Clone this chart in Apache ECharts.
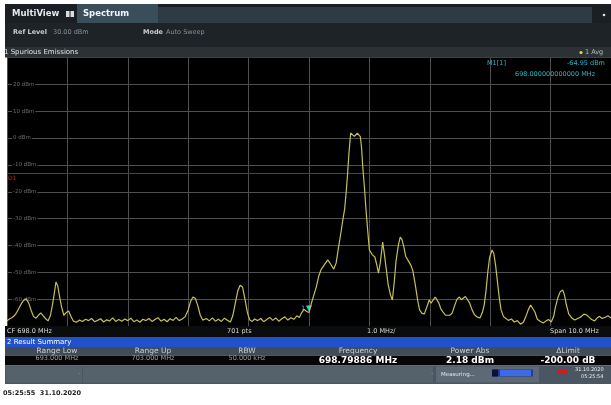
<!DOCTYPE html>
<html>
<head>
<meta charset="utf-8">
<script src="https://cdn.jsdelivr.net/npm/echarts@6/dist/echarts.min.js"></script>
<style>
html,body{margin:0;padding:0;background:#fff;}
#c{width:611px;height:405px;}
</style>
</head>
<body>
<div id="c"></div>
<script>
// ---- Data ----
var freqMHz = [
693.00,693.04,693.08,693.12,693.16,693.20,693.24,693.28,693.32,693.36,693.40,693.44,693.48,693.52,693.56,693.60,693.64,693.68,693.72,693.75,693.78,693.81,693.84,693.87,693.90,693.94,693.98,694.02,694.06,694.10,
694.15,694.20,694.25,694.30,694.35,694.40,694.45,694.50,694.55,694.60,694.65,694.70,694.75,694.80,694.85,694.90,694.95,695.00,695.05,695.10,695.15,695.20,695.25,695.30,695.35,695.40,695.45,695.50,695.55,695.60,695.65,695.70,695.75,695.80,695.85,695.90,
695.95,696.00,696.04,696.08,696.12,696.16,696.20,696.24,696.30,696.35,696.40,696.45,696.50,696.55,696.60,696.65,696.70,696.74,696.78,696.82,696.86,696.90,696.94,696.98,697.02,697.06,697.10,697.15,697.20,697.25,697.30,697.35,697.40,697.45,697.50,697.55,697.60,697.65,697.70,697.75,697.80,697.84,697.88,697.92,697.96,
698.00,698.04,698.08,698.12,698.16,698.20,698.25,698.31,698.36,698.41,698.45,698.49,698.53,698.56,698.59,698.62,698.64,698.66,698.69,698.72,698.75,698.77,698.80,698.82,698.85,698.87,698.89,698.92,698.94,698.97,
699.00,699.05,699.09,699.12,699.15,699.18,699.22,699.25,699.28,699.31,699.35,699.38,699.41,699.44,699.48,699.51,699.54,699.57,699.60,699.63,699.66,699.69,699.72,699.76,699.80,699.83,699.87,699.91,699.95,699.99,
700.02,700.05,700.09,700.12,700.15,700.18,700.22,700.26,700.29,700.33,700.37,700.41,700.45,700.49,700.52,700.55,700.59,700.62,700.66,700.70,700.74,700.78,700.83,700.87,700.90,700.93,700.96,700.99,
701.03,701.06,701.09,701.12,701.15,701.18,701.22,701.26,701.30,701.35,701.40,701.45,701.50,701.55,701.59,701.63,701.67,701.70,701.74,701.78,701.83,701.88,701.93,701.97,
702.01,702.05,702.08,702.12,702.16,702.20,702.23,702.26,702.30,702.35,702.40,702.45,702.50,702.55,702.60,702.64,702.68,702.73,702.77,702.81,702.85,702.90,702.95,703.00
];
var levelDbm = [
-68.0,-67.4,-66.9,-66.2,-65.0,-63.3,-61.6,-60.3,-59.9,-61.5,-64.2,-66.5,-67.1,-66.0,-65.1,-66.2,-67.3,-68.1,-66.0,-62.5,-58.3,-53.6,-55.0,-59.0,-62.5,-66.0,-65.0,-64.4,-66.5,-68.2,
-68.6,-67.8,-68.3,-67.5,-68.0,-67.2,-68.4,-67.9,-67.3,-68.5,-67.7,-68.1,-67.0,-68.3,-67.6,-68.2,-67.4,-68.0,-67.1,-68.4,-67.8,-68.6,-67.5,-68.0,-67.2,-68.3,-67.6,-66.9,-68.2,-67.5,-68.4,-67.3,-67.9,-66.8,-68.0,-67.4,
-66.5,-64.0,-60.8,-59.2,-59.8,-62.5,-66.0,-67.8,-67.2,-68.1,-67.0,-68.2,-67.5,-68.3,-67.1,-67.9,-68.5,-66.0,-61.5,-57.0,-54.8,-55.5,-60.0,-65.0,-67.8,-68.3,-67.4,-68.0,-67.2,-68.4,-67.6,-66.8,-67.9,-67.0,-68.2,-67.3,-66.6,-67.8,-66.9,-67.5,-66.2,-66.8,-65.0,-63.8,-64.6,
-64.95,-61.5,-58.5,-55.5,-51.5,-49.0,-47.3,-45.4,-47.0,-48.8,-46.5,-40.5,-35.0,-30.5,-26.5,-19.0,-13.0,-6.0,1.9,2.0,0.6,0.0,1.8,2.18,0.5,-3.5,-10.8,-19.0,-25.7,-34.0,
-41.7,-43.5,-44.3,-47.0,-50.3,-46.5,-38.7,-43.6,-49.0,-54.5,-58.5,-60.3,-54.0,-46.0,-39.8,-36.9,-37.8,-40.5,-44.0,-45.2,-45.8,-47.5,-49.5,-54.7,-60.5,-64.0,-65.3,-65.5,-63.0,-60.3,
-61.5,-60.8,-59.2,-58.8,-61.5,-63.5,-64.8,-66.0,-66.6,-66.0,-65.2,-62.5,-60.0,-59.2,-60.2,-59.9,-59.0,-59.2,-61.5,-64.0,-65.8,-66.6,-67.0,-65.0,-62.2,-57.0,-50.0,-44.5,
-41.7,-43.0,-47.5,-53.5,-59.5,-64.0,-66.5,-67.2,-67.9,-67.4,-68.5,-68.0,-69.3,-68.6,-66.5,-64.0,-62.2,-62.5,-64.8,-67.5,-68.3,-68.9,-68.0,-67.6,
-68.5,-66.5,-63.0,-59.5,-57.2,-56.6,-58.5,-62.0,-65.5,-67.0,-67.8,-67.2,-66.6,-65.6,-65.9,-66.8,-67.6,-68.1,-67.0,-66.4,-67.2,-66.8,-66.2,-67.0
];
var freqMin = 693, freqMax = 703, freqStep = 1;
var refLevel = 30, levelMin = -70, levelStep = 10;
var displayLine = -13;
var marker = {freq: 698.0, level: -64.95};

var header = ['Range Low','Range Up','RBW','Frequency','Power Abs','\u0394Limit'];
var values = ['693.000 MHz','703.000 MHz','50.000 kHz','698.79886 MHz','2.18 dBm','-200.00 dB'];

// ---- Chart ----
var chart = echarts.init(document.getElementById('c'), null, {renderer:'canvas'});
var F = 'DejaVu Sans, Verdana, sans-serif';
var pts = freqMHz.map(function(f,i){return [f, levelDbm[i]];});

function txt(x,y,s,o){
  o = o||{};
  return {type:'text', x:x, y:y, z:o.z||10, silent:true,
    style:{text:s, fill:o.fill||'#d0d0d0', font:(o.bold?'bold ':'')+(o.size||7)+'px '+F,
      textAlign:o.align||'left', textVerticalAlign:'middle'}};
}
function rect(x,y,w,h,c,z){
  return {type:'rect', silent:true, z:z||1, shape:{x:x,y:y,width:w,height:h}, style:{fill:c}};
}

var colCenters = [57,153,247,358,470,568];
var g = [];
// tab bar
g.push(rect(5,4,606,19,'#1b1f23'));
g.push(rect(77,4,81,19,'#3a4d5b',2));
g.push(rect(158,7,434,16,'#2e3a44',2));
g.push(txt(12,13.5,'MultiView',{bold:true,size:8.5,fill:'#e4e8ec'}));
g.push(rect(66,11,8,6,'#d8dde4',3));
g.push(rect(69.5,11,1,6,'#1b1f23',4));
g.push(txt(83,13.5,'Spectrum',{bold:true,size:8.5,fill:'#f0f4f8'}));
g.push({type:'circle', silent:true, z:3, shape:{cx:604,cy:15,r:1.3}, style:{fill:'#dde'}});
// info bar
g.push(rect(5,23,606,24,'#1e2327'));
g.push(txt(13,32.5,'Ref Level',{bold:true,size:6.5,fill:'#c8ccd0'}));
g.push(txt(53,32.5,'30.00 dBm',{size:6.5,fill:'#8a9096'}));
g.push(txt(143,32.5,'Mode',{bold:true,size:6.5,fill:'#c8ccd0'}));
g.push(txt(166,32.5,'Auto Sweep',{size:6.5,fill:'#8a9096'}));
// title bar
g.push(rect(5,47,606,10.5,'#2c3135'));
g.push(txt(4,52.5,'1 Spurious Emissions',{size:7,fill:'#e0e4e8'}));
g.push({type:'circle', silent:true, z:3, shape:{cx:581,cy:52.5,r:1.6}, style:{fill:'#d6de3a'}});
g.push(txt(585,52.5,'1 Avg',{size:6.5,fill:'#b8bcc0'}));
// marker readout
g.push(txt(487,63.5,'M1[1]',{size:6.5,fill:'#2cb6c2'}));
g.push(txt(567,63.5,'-64.95 dBm',{size:6.5,fill:'#2cb6c2'}));
g.push(txt(515,74.5,'698.000000000000 MHz',{size:6.5,fill:'#2cb6c2'}));
// display line label
g.push(txt(8,178.5,'D1',{size:6,fill:'#c82020'}));
// bottom axis bar
g.push(rect(5,326,606,11,'#0b0c0d'));
g.push(txt(7,331.5,'CF 698.0 MHz',{size:6.5,fill:'#d8d8d8'}));
g.push(txt(227,331.5,'701 pts',{size:6.5,fill:'#d8d8d8'}));
g.push(txt(367,331.5,'1.0 MHz/',{size:6.5,fill:'#d8d8d8'}));
g.push(txt(550,331.5,'Span 10.0 MHz',{size:6.5,fill:'#d8d8d8'}));
// result summary
g.push(rect(5,337,606,10,'#2152cc'));
g.push(txt(7,342,'2 Result Summary',{size:7,fill:'#ffffff'}));
g.push(rect(5,347,606,8.5,'#414c56'));
g.push(rect(5,355.5,606,10,'#060606'));
for (var i=0;i<header.length;i++){
  g.push(txt(colCenters[i],351.5,header[i],{size:7.5,fill:'#c8ccd0',align:'center'}));
  var big = i>=3;
  g.push(txt(colCenters[i], big?361:358.5, values[i],{size:big?9:6.5,bold:big,fill:big?'#ffffff':'#9a9ea2',align:'center'}));
}
// status bar
g.push(rect(5,365.5,606,18.5,'#4a5661'));
g.push(rect(6,366.5,76,16,'#55616b',2));
g.push(txt(78,374.5,'\u00b7',{size:7,fill:'#aab'}));
g.push(rect(83,366.5,350,16,'#55616b',2));
g.push(txt(431,374.5,'\u00b7',{size:7,fill:'#aab'}));
g.push(rect(436,366.5,103,16,'#5d6a75',2));
g.push(txt(441,374.5,'Measuring...',{size:5.5,fill:'#e0e6ec'}));
g.push(rect(492,369.5,41,7,'#223a9c',3));
g.push(rect(492,369.5,6,7,'#0c1233',4));
g.push(rect(500,370,31,6,'#3f6ae6',4));
g.push(rect(557,369,11,5,'#d21c1c',3));
g.push(txt(575,370,'31.10.2020',{size:5,fill:'#e8ecf0'}));
g.push(txt(581,376.5,'05:25:54',{size:5,fill:'#e8ecf0'}));
// timestamp
g.push(txt(3,393,'05:25:55  31.10.2020',{bold:true,size:6.5,fill:'#222222'}));

chart.setOption({
  animation:false,
  backgroundColor:'#ffffff',
  textStyle:{fontFamily:F},
  grid:{left:7,top:57.5,width:607,height:268.5,show:true,backgroundColor:'#000000',borderWidth:0},
  xAxis:{type:'value',min:freqMin,max:freqMax,interval:freqStep,
    axisLine:{show:false},axisTick:{show:false},axisLabel:{show:false},
    splitLine:{show:true,lineStyle:{color:'#4e4e4e',width:1}}},
  yAxis:{type:'value',min:levelMin,max:refLevel,interval:levelStep,
    axisLine:{show:false},axisTick:{show:false},
    axisLabel:{inside:true,margin:5,showMinLabel:false,showMaxLabel:false,
      formatter:function(v){return v+' dBm';},color:'#6c6c6c',fontSize:5.5,
      backgroundColor:'#000',padding:[0,1]},
    splitLine:{show:true,lineStyle:{color:'#4e4e4e',width:1}}},
  graphic:g,
  series:[{
    type:'line', data:pts, showSymbol:false, symbol:'none',
    lineStyle:{color:'#c6c058',width:1.2}, z:5,
    markLine:{silent:true, symbol:'none', animation:false,
      lineStyle:{color:'#b01818',width:1,type:'solid'},
      label:{show:false},
      data:[{yAxis:displayLine}]},
    markPoint:{silent:true, animation:false,
      symbol:'triangle', symbolRotate:180, symbolSize:[6,6], symbolOffset:[0,-4],
      itemStyle:{color:'#32d2e0'},
      label:{show:true,formatter:'1',position:'left',distance:1,color:'#32d2e0',fontSize:6},
      data:[{coord:[marker.freq, marker.level]}]}
  }]
});
</script>
</body>
</html>
